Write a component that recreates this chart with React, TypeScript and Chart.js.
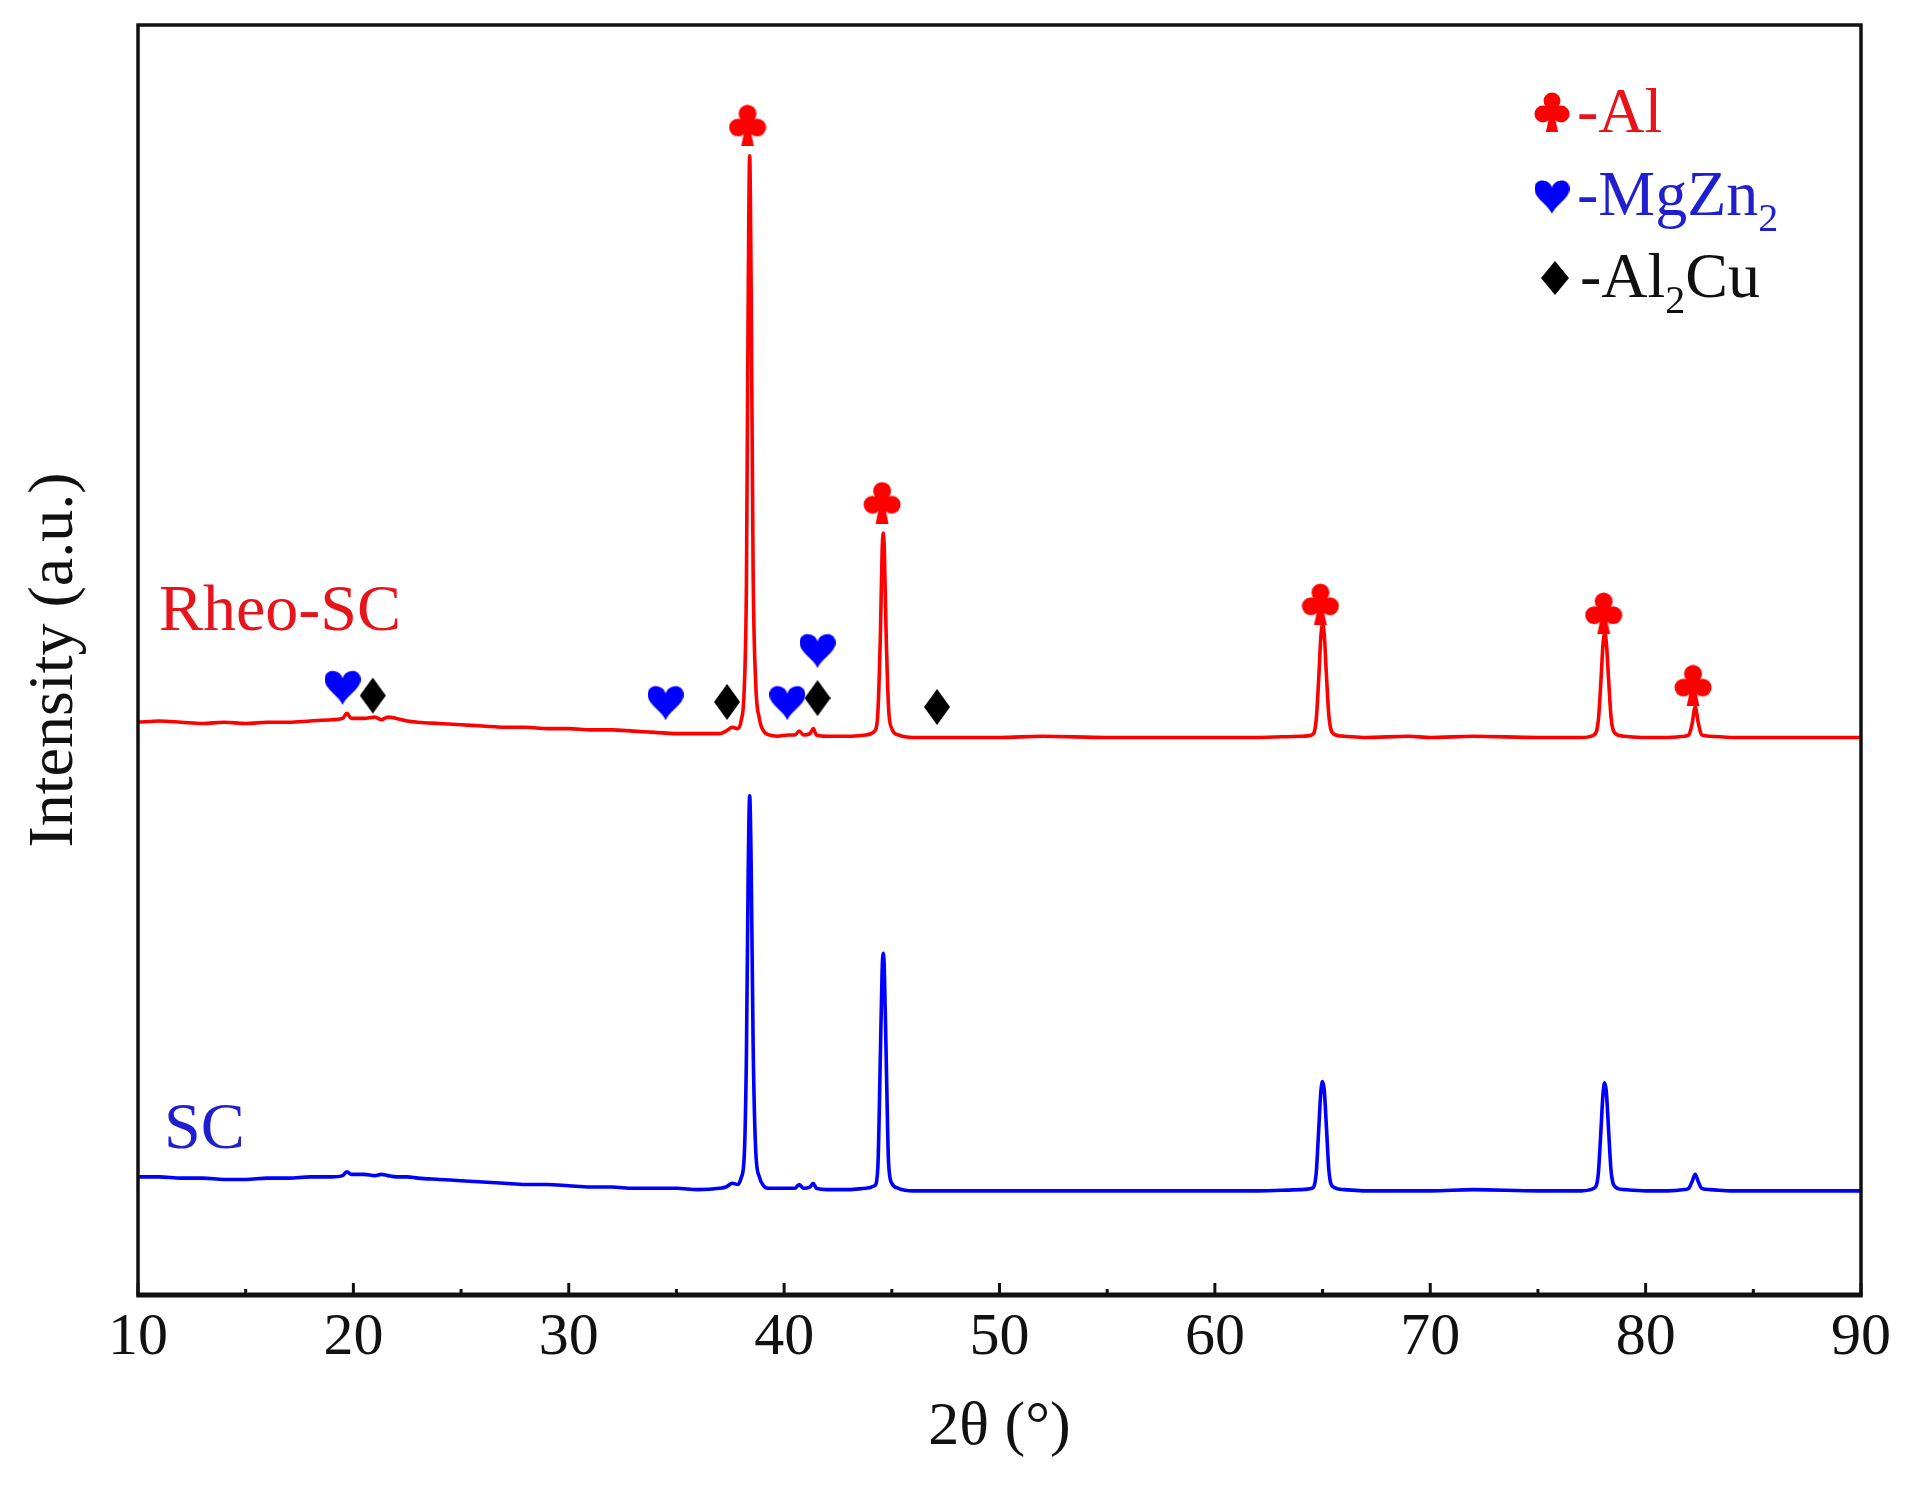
import React, { useEffect, useRef } from 'react';
import { Chart, registerables } from 'chart.js';

Chart.register(...registerables);

// ---------- data ----------
const theta = [
  10, 11, 12, 13, 14, 15, 16, 17, 18, 19, 19.5, 19.7, 19.9, 20.5, 21, 21.3, 21.6, 22, 22.5, 23,
  24, 25, 26, 27, 28, 29, 30, 31, 32, 33, 34, 35, 36, 37, 37.3, 37.6, 37.85,
  38.0, 38.15, 38.25, 38.33, 38.4, 38.47, 38.56, 38.68, 38.85, 39.05,
  39.3, 39.7, 40.2, 40.5, 40.7, 40.9, 41.2, 41.35, 41.5, 42, 43, 43.8,
  44.2, 44.35, 44.47, 44.55, 44.6, 44.65, 44.73, 44.85, 45.0, 45.3,
  46, 48, 50, 52, 55, 58, 60, 62, 64,
  64.5, 64.7, 64.82, 64.92, 65.0, 65.08, 65.18, 65.3, 65.5,
  66, 67, 69, 70, 72, 75, 77,
  77.6, 77.8, 77.92, 78.02, 78.1, 78.18, 78.28, 78.4, 78.6,
  79, 80, 81, 81.8, 82.0, 82.15, 82.3, 82.45, 82.6, 83, 84, 86, 88, 90,
];

const rheoSC = [
  451, 452, 451, 450, 451, 450, 451, 451, 452, 453, 454, 458, 454, 454, 455, 453, 455, 454, 452, 451,
  450, 449, 448, 447, 447, 446, 446, 445, 445, 444, 443, 442, 442, 442, 444, 447, 446,
  452, 478, 560, 780, 897, 790, 570, 482, 454, 444,
  441, 440, 441, 441, 444, 441, 442, 446, 441, 440, 440, 441,
  444, 458, 520, 585, 600, 588, 525, 462, 446, 441,
  439, 439, 439, 440, 439, 439, 439, 439, 440,
  441, 452, 485, 518, 528, 520, 488, 455, 442,
  440, 439, 440, 439, 440, 439, 439,
  441, 452, 482, 512, 521, 513, 485, 454, 442,
  440, 439, 439, 440, 441, 449, 463, 450, 441, 440, 439, 439, 439, 439,
];

const sc = [
  93, 93, 92, 92, 91, 91, 92, 92, 93, 93, 94, 97, 95, 95, 94, 95, 94, 93, 93, 92,
  91, 90, 89, 88, 87, 87, 86, 85, 85, 84, 84, 84, 83, 84, 85, 88, 87,
  92, 110, 190, 330, 393, 338, 198, 114, 93, 86,
  84, 84, 84, 84, 87, 84, 85, 88, 84, 83, 83, 84,
  86, 100, 190, 255, 269, 258, 195, 104, 88, 84,
  82, 82, 82, 82, 82, 82, 82, 82, 83,
  84, 95, 130, 160, 168, 161, 132, 97, 85,
  83, 82, 82, 82, 83, 82, 82,
  84, 95, 128, 158, 167, 159, 130, 97, 85,
  83, 82, 82, 83, 84, 89, 95, 89, 84, 83, 82, 82, 82, 82,
];

// phase markers (2θ, height in the same intensity units)
const alTheta = [38.3, 44.55, 64.9, 78.05, 82.2];
const alY = [921, 624, 544, 537, 480];
const mgZn2Theta = [19.5, 34.5, 40.15, 41.55];
const mgZn2Y = [479, 467, 467, 508];
const al2CuTheta = [20.9, 37.35, 41.55, 47.1];
const al2CuY = [472, 467, 470, 463];

const xTickLabels = ['10', '20', '30', '40', '50', '60', '70', '80', '90'];

// ---------- styling ----------
const SERIF = "'Liberation Serif', 'Times New Roman', serif";
const RED = '#ff0000';
const BLUE = '#0000ff';
const TEXT_RED = '#e8141c';
const TEXT_BLUE = '#1f1fd0';
const INK = '#111111';

function makeClub(w: number, h: number, color: string) {
  const c = document.createElement('canvas');
  c.width = w;
  c.height = h;
  const g = c.getContext('2d')!;
  g.fillStyle = color;
  const r = w * 0.235;
  g.beginPath();
  g.arc(w / 2, r + 0.5, r, 0, Math.PI * 2);
  g.fill();
  g.beginPath();
  g.arc(r + 0.5, h * 0.55, r, 0, Math.PI * 2);
  g.fill();
  g.beginPath();
  g.arc(w - r - 0.5, h * 0.55, r, 0, Math.PI * 2);
  g.fill();
  g.beginPath();
  g.arc(w / 2, h * 0.45, r * 0.75, 0, Math.PI * 2);
  g.fill();
  g.beginPath();
  g.moveTo(w / 2 - w * 0.05, h * 0.5);
  g.lineTo(w / 2 + w * 0.05, h * 0.5);
  g.lineTo(w / 2 + w * 0.17, h);
  g.lineTo(w / 2 - w * 0.17, h);
  g.closePath();
  g.fill();
  return c;
}

function makeHeart(w: number, h: number, color: string) {
  const c = document.createElement('canvas');
  c.width = w;
  c.height = h;
  const g = c.getContext('2d')!;
  g.fillStyle = color;
  g.beginPath();
  g.moveTo(w / 2, h * 0.28);
  g.bezierCurveTo(w * 0.45, h * 0.02, 0, -h * 0.02, 0, h * 0.3);
  g.bezierCurveTo(0, h * 0.58, w * 0.38, h * 0.72, w / 2, h);
  g.bezierCurveTo(w * 0.62, h * 0.72, w, h * 0.58, w, h * 0.3);
  g.bezierCurveTo(w, -h * 0.02, w * 0.55, h * 0.02, w / 2, h * 0.28);
  g.closePath();
  g.fill();
  return c;
}

function makeDiamond(w: number, h: number, color: string) {
  const c = document.createElement('canvas');
  c.width = w;
  c.height = h;
  const g = c.getContext('2d')!;
  g.fillStyle = color;
  g.beginPath();
  g.moveTo(w / 2, 0);
  g.lineTo(w, h / 2);
  g.lineTo(w / 2, h);
  g.lineTo(0, h / 2);
  g.closePath();
  g.fill();
  return c;
}

function drawRichText(
  ctx: CanvasRenderingContext2D,
  parts: [string, boolean][],
  x: number,
  baseline: number,
  color: string,
  size: number,
  subSize: number,
  subShift: number,
) {
  ctx.fillStyle = color;
  ctx.textBaseline = 'alphabetic';
  ctx.textAlign = 'left';
  let cx = x;
  for (const [t, sub] of parts) {
    ctx.font = `${sub ? subSize : size}px ${SERIF}`;
    ctx.fillText(t, cx, sub ? baseline + subShift : baseline);
    cx += ctx.measureText(t).width;
  }
}

export default function App() {
  const ref = useRef<HTMLCanvasElement>(null);

  useEffect(() => {
    const canvas = ref.current!;
    const club = makeClub(38, 42, RED);
    const heart = makeHeart(36, 37, BLUE);
    const diamond = makeDiamond(26, 36, '#000000');
    const clubL = makeClub(36, 40, RED);
    const heartL = makeHeart(35, 36, BLUE);
    const diamondL = makeDiamond(28, 34, '#000000');

    const decor = {
      id: 'decor',
      afterDraw(chart: any) {
        const { ctx, chartArea: a, scales } = chart;
        const xs = scales.x;
        ctx.save();
        // frame
        ctx.strokeStyle = INK;
        ctx.lineWidth = 3.5;
        ctx.strokeRect(a.left, a.top, a.right - a.left, a.bottom - a.top);
        ctx.lineWidth = 5;
        ctx.beginPath();
        ctx.moveTo(a.left - 1.5, a.bottom);
        ctx.lineTo(a.right + 1.5, a.bottom);
        ctx.stroke();
        // inward ticks
        ctx.lineWidth = 3;
        for (let v = 10; v <= 90; v += 5) {
          const px = xs.getPixelForValue(v);
          const len = v % 10 === 0 ? 12 : 6;
          ctx.beginPath();
          ctx.moveTo(px, a.bottom);
          ctx.lineTo(px, a.bottom - len);
          ctx.stroke();
        }
        // series labels
        ctx.textBaseline = 'alphabetic';
        ctx.textAlign = 'left';
        ctx.font = `66px ${SERIF}`;
        ctx.fillStyle = TEXT_RED;
        ctx.fillText('Rheo-SC', 159, 630);
        ctx.fillStyle = TEXT_BLUE;
        ctx.fillText('SC', 164, 1148);
        // legend
        ctx.drawImage(clubL, 1552 - clubL.width / 2, 112 - clubL.height / 2);
        ctx.drawImage(heartL, 1552 - heartL.width / 2, 196 - heartL.height / 2);
        ctx.drawImage(diamondL, 1555 - diamondL.width / 2, 278 - diamondL.height / 2);
        drawRichText(ctx, [['-Al', false]], 1577, 132, TEXT_RED, 64, 40, 16);
        drawRichText(ctx, [['-MgZn', false], ['2', true]], 1577, 215, TEXT_BLUE, 64, 40, 16);
        drawRichText(ctx, [['-Al', false], ['2', true], ['Cu', false]], 1580, 297, INK, 64, 40, 16);
        ctx.restore();
      },
    };

    const toXY = (xs: number[], ys: number[]) => xs.map((x, i) => ({ x, y: ys[i] }));

    const chart = new Chart(canvas, {
      type: 'line',
      data: {
        datasets: [
          {
            label: 'Al',
            type: 'scatter',
            data: toXY(alTheta, alY),
            pointStyle: club as any,
            pointRadius: 10,
            showLine: false,
            order: 0,
          } as any,
          {
            label: 'MgZn2',
            type: 'scatter',
            data: toXY(mgZn2Theta, mgZn2Y),
            pointStyle: heart as any,
            pointRadius: 10,
            showLine: false,
            order: 0,
          } as any,
          {
            label: 'Al2Cu',
            type: 'scatter',
            data: toXY(al2CuTheta, al2CuY),
            pointStyle: diamond as any,
            pointRadius: 10,
            showLine: false,
            order: 0,
          } as any,
          {
            label: 'Rheo-SC',
            data: toXY(theta, rheoSC),
            borderColor: RED,
            borderWidth: 3.6,
            pointRadius: 0,
            cubicInterpolationMode: 'monotone',
            fill: false,
            order: 2,
          },
          {
            label: 'SC',
            data: toXY(theta, sc),
            borderColor: BLUE,
            borderWidth: 3.6,
            pointRadius: 0,
            cubicInterpolationMode: 'monotone',
            fill: false,
            order: 2,
          },
        ],
      },
      options: {
        responsive: false,
        devicePixelRatio: 1,
        animation: false,
        events: [],
        layout: { padding: { left: 0, top: 25, right: 55, bottom: 0 } },
        plugins: { legend: { display: false }, tooltip: { enabled: false } },
        scales: {
          x: {
            type: 'linear',
            position: 'bottom',
            min: 10,
            max: 90,
            ticks: {
              stepSize: 10,
              autoSkip: false,
              maxRotation: 0,
              padding: 7,
              color: INK,
              font: { family: SERIF, size: 60 },
              callback: (v: any) => {
                const i = xTickLabels.indexOf(String(v));
                return i >= 0 ? xTickLabels[i] : '';
              },
            },
            grid: { display: false, drawTicks: false },
            border: { display: false },
            title: {
              display: true,
              text: '2θ (°)',
              color: INK,
              font: { family: SERIF, size: 62 },
              padding: { top: 0, bottom: 23 },
            },
            afterFit: (s: any) => {
              s.height = 193;
            },
          },
          y: {
            type: 'linear',
            min: 0,
            max: 1000,
            ticks: { display: false },
            grid: { display: false, drawTicks: false },
            border: { display: false },
            title: {
              display: true,
              text: 'Intensity (a.u.)',
              color: INK,
              font: { family: SERIF, size: 64 },
              padding: { top: 17, bottom: 0 },
            },
            afterFit: (s: any) => {
              s.width = 138;
            },
          },
        },
      },
      plugins: [decor],
    } as any);

    return () => chart.destroy();
  }, []);

  return (
    <div style={{ position: 'absolute', left: 0, top: 0, width: 1916, height: 1488, background: '#ffffff' }}>
      <canvas ref={ref} width={1916} height={1488} style={{ display: 'block', width: 1916, height: 1488 }} />
    </div>
  );
}
